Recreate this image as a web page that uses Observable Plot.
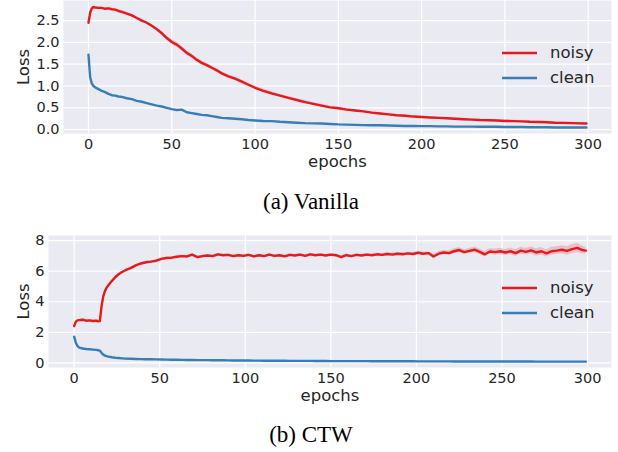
<!DOCTYPE html>
<html><head><meta charset="utf-8">
<script src="https://cdn.jsdelivr.net/npm/d3@7"></script>
<script src="https://cdn.jsdelivr.net/npm/@observablehq/plot@0.6"></script>
<style>
body{margin:0;background:#fff;}
#wrap{position:relative;width:618px;height:452px;overflow:hidden;}
#a{position:absolute;left:0;top:0;}
#b{position:absolute;left:0;top:225px;}
.cap{position:absolute;left:0;width:622px;text-align:center;font-family:"Liberation Serif","Times New Roman",serif;font-size:23px;line-height:23px;color:#000;}
</style></head><body>
<div id="wrap">
  <div id="a"></div>
  <div class="cap" id="capA" style="top:190px"></div>
  <div id="b"></div>
  <div class="cap" id="capB" style="top:423px"></div>
</div>
<script>
// ---------- data ----------
const captions = ["(a) Vanilla", "(b) CTW"];
const seriesNames = ["noisy", "clean"];
const seriesColors = ["#e41a1c", "#377eb8"];
const xTicks = [0, 50, 100, 150, 200, 250, 300];
const vanYTicks = [0, 0.5, 1, 1.5, 2, 2.5];
const ctwYTicks = [0, 2, 4, 6, 8];
const axisLabels = {x: "epochs", y: "Loss"};

const vanEpochs = [
  0,1,2,3,4,6,8,10,12,14,
  16,18,20,23,26,29,32,35,38,41,
  44,47,50,53,56,59,62,65,68,71,
  74,77,80,84,88,92,96,100,105,110,
  115,120,125,130,135,140,145,150,155,160,
  165,170,175,180,185,190,195,200,205,210,
  215,220,225,230,235,240,245,250,255,260,
  265,270,275,280,285,290,295,299];
const vanNoisy = [
  2.45,2.68,2.78,2.81,2.80,2.79,2.79,2.77,2.78,2.76,
  2.75,2.72,2.70,2.66,2.62,2.56,2.50,2.45,2.38,2.30,
  2.21,2.10,2.01,1.95,1.86,1.76,1.69,1.60,1.53,1.48,
  1.42,1.36,1.29,1.22,1.17,1.10,1.03,0.96,0.89,0.83,
  0.78,0.73,0.68,0.63,0.59,0.55,0.51,0.49,0.46,0.44,
  0.42,0.39,0.37,0.35,0.33,0.32,0.30,0.29,0.28,0.27,
  0.26,0.25,0.24,0.23,0.22,0.215,0.21,0.20,0.195,0.19,
  0.18,0.175,0.17,0.16,0.155,0.15,0.145,0.14];
const vanClean = [
  1.72,1.20,1.06,1.00,0.97,0.93,0.89,0.86,0.82,0.79,
  0.78,0.76,0.75,0.72,0.70,0.66,0.64,0.61,0.58,0.55,
  0.53,0.50,0.47,0.45,0.46,0.40,0.38,0.36,0.34,0.33,
  0.31,0.29,0.27,0.26,0.25,0.24,0.22,0.21,0.20,0.195,
  0.18,0.17,0.16,0.15,0.145,0.14,0.13,0.12,0.115,0.11,
  0.105,0.10,0.10,0.095,0.09,0.085,0.085,0.08,0.08,0.075,
  0.075,0.07,0.07,0.07,0.065,0.065,0.065,0.06,0.06,0.06,
  0.055,0.055,0.055,0.05,0.05,0.05,0.05,0.05];
const vanNoisyBand = [
  0.02,0.02,0.02,0.02,0.02,0.02,0.02,0.02,0.02,0.02,
  0.03,0.03,0.03,0.03,0.03,0.03,0.03,0.03,0.03,0.03,
  0.05,0.05,0.05,0.06,0.06,0.05,0.05,0.05,0.05,0.05,
  0.04,0.04,0.04,0.04,0.04,0.04,0.04,0.04,0.04,0.04,
  0.03,0.03,0.03,0.03,0.03,0.03,0.03,0.03,0.03,0.03,
  0.02,0.02,0.02,0.02,0.02,0.02,0.02,0.02,0.02,0.02,
  0.02,0.02,0.02,0.02,0.02,0.02,0.02,0.02,0.02,0.02,
  0.02,0.02,0.02,0.02,0.02,0.02,0.02,0.02];

const ctwEpochs = [
  0,1,2,3,5,7,9,11,13,14,
  15,16,17,18,19,20,22,24,26,28,
  30,33,36,39,42,45,48,51,54,57,
  60,63,66,69,72,75,78,81,84,87,
  90,93,96,99,102,105,108,111,114,117,
  120,123,126,129,132,135,138,141,144,147,
  150,153,156,159,162,165,168,171,174,177,
  180,183,186,189,192,195,198,201,204,207,
  210,213,216,219,222,225,228,231,234,237,
  240,243,246,249,252,255,258,261,264,267,
  270,273,276,279,282,285,288,291,294,297,
  299];
const ctwNoisy = [
  2.40,2.70,2.78,2.80,2.82,2.76,2.78,2.74,2.76,2.72,
  2.74,3.70,4.35,4.70,4.92,5.08,5.35,5.60,5.80,5.94,
  6.06,6.20,6.38,6.50,6.58,6.62,6.68,6.80,6.86,6.88,
  6.94,6.98,6.96,7.08,6.92,6.98,7.02,6.98,7.10,7.04,
  7.06,6.98,7.04,7.00,7.06,6.96,7.04,6.98,7.08,7.00,
  7.04,6.96,7.06,7.02,7.08,7.00,7.10,7.04,7.08,7.02,
  7.08,7.04,6.92,7.04,6.98,7.06,7.02,7.08,7.04,7.10,
  7.06,7.12,7.08,7.14,7.10,7.16,7.12,7.20,7.14,7.18,
  6.96,7.14,7.22,7.18,7.30,7.38,7.24,7.32,7.40,7.26,
  7.10,7.28,7.24,7.30,7.22,7.30,7.18,7.34,7.26,7.36,
  7.22,7.30,7.16,7.30,7.34,7.40,7.32,7.44,7.52,7.38,
  7.34];
const ctwClean = [
  1.72,1.30,1.10,1.00,0.94,0.91,0.89,0.87,0.85,0.83,
  0.80,0.66,0.54,0.48,0.44,0.41,0.37,0.34,0.32,0.30,
  0.28,0.27,0.26,0.25,0.24,0.235,0.23,0.22,0.215,0.21,
  0.205,0.20,0.195,0.19,0.185,0.18,0.18,0.175,0.17,0.17,
  0.165,0.16,0.16,0.155,0.155,0.15,0.15,0.145,0.145,0.14,
  0.14,0.14,0.135,0.135,0.13,0.13,0.13,0.125,0.125,0.125,
  0.12,0.12,0.12,0.12,0.115,0.115,0.115,0.115,0.11,0.11,
  0.11,0.11,0.11,0.105,0.105,0.105,0.105,0.10,0.10,0.10,
  0.10,0.10,0.10,0.10,0.095,0.095,0.095,0.095,0.095,0.095,
  0.09,0.09,0.09,0.09,0.09,0.09,0.09,0.09,0.09,0.09,
  0.085,0.085,0.085,0.085,0.085,0.085,0.085,0.085,0.085,0.085,
  0.085];
const ctwNoisyBand = [
  0.05,0.05,0.05,0.05,0.05,0.05,0.05,0.05,0.05,0.05,
  0.05,0.08,0.08,0.06,0.06,0.06,0.06,0.06,0.06,0.06,
  0.06,0.06,0.06,0.06,0.06,0.06,0.06,0.06,0.06,0.06,
  0.07,0.07,0.07,0.07,0.07,0.07,0.07,0.07,0.07,0.07,
  0.07,0.07,0.07,0.07,0.07,0.07,0.07,0.07,0.07,0.07,
  0.07,0.07,0.07,0.07,0.07,0.07,0.07,0.07,0.07,0.07,
  0.08,0.08,0.08,0.08,0.08,0.08,0.08,0.08,0.08,0.08,
  0.09,0.09,0.09,0.09,0.09,0.09,0.09,0.09,0.09,0.09,
  0.12,0.12,0.14,0.14,0.16,0.16,0.16,0.16,0.18,0.18,
  0.18,0.18,0.20,0.20,0.20,0.22,0.22,0.22,0.22,0.24,
  0.24,0.24,0.24,0.26,0.26,0.26,0.28,0.30,0.30,0.26,
  0.24];

// ---------- drawing ----------
const INK = "#262626";
const BG = "#eaeaf2";

function rows(ep, noisy, clean, band) {
  return ep.map((e, i) => ({e, noisy: noisy[i], clean: clean[i], lo: noisy[i] - band[i], hi: noisy[i] + band[i]}));
}

function legendMark(index, scales, values, dims) {
  const R = dims.width - dims.marginRight, T = dims.marginTop;
  const g = d3.create("svg:g");
  seriesNames.forEach((name, i) => {
    const y = T + 53 + i * 25;
    g.append("line").attr("x1", R - 109).attr("x2", R - 74).attr("y1", y).attr("y2", y)
      .attr("stroke", seriesColors[i]).attr("stroke-width", 2.4);
    g.append("text").attr("x", R - 61).attr("y", y).attr("dy", "0.3em")
      .attr("text-anchor", "start")
      .attr("font-size", 16.5).attr("fill", INK).text(name);
  });
  return g.node();
}

function panel({data, yDomain, yTicks, yFmt, marginLeft, marginTop, height, lossDx}) {
  return Plot.plot({
    width: 618, height, marginTop, marginLeft, marginRight: 7, marginBottom: 42,
    style: {fontFamily: "DejaVu Sans", fontSize: "14.5px", color: INK, background: "transparent", overflow: "visible"},
    x: {domain: [-15, 314]},
    y: {domain: yDomain},
    marks: [
      Plot.frame({fill: BG, stroke: null}),
      Plot.gridX(xTicks, {stroke: "#fff", strokeOpacity: 1, strokeWidth: 1.2}),
      Plot.gridY(yTicks, {stroke: "#fff", strokeOpacity: 1, strokeWidth: 1.2}),
      Plot.axisX(xTicks, {tickSize: 0, tickPadding: 5, label: null, tickFormat: "d"}),
      Plot.axisY(yTicks, {tickSize: 0, tickPadding: 4, label: null, tickFormat: yFmt}),
      Plot.areaY(data, {x: "e", y1: "lo", y2: "hi", fill: seriesColors[0], fillOpacity: 0.2}),
      Plot.lineY(data, {x: "e", y: "clean", stroke: seriesColors[1], strokeWidth: 2.4}),
      Plot.lineY(data, {x: "e", y: "noisy", stroke: seriesColors[0], strokeWidth: 2.4}),
      Plot.text([axisLabels.x], {text: d => d, frameAnchor: "bottom", lineAnchor: "middle", textAnchor: "middle", dy: 28, fontSize: 16.5, fill: INK}),
      Plot.text([axisLabels.y], {text: d => d, frameAnchor: "left", lineAnchor: "middle", textAnchor: "middle", dx: lossDx, rotate: -90, fontSize: 16.5, fill: INK}),
      legendMark
    ]
  });
}

document.getElementById("a").append(panel({
  data: rows(vanEpochs, vanNoisy, vanClean, vanNoisyBand),
  yDomain: [-0.088, 2.96], yTicks: vanYTicks, yFmt: d3.format(".1f"),
  marginLeft: 63, marginTop: 0, height: 175, lossDx: -40
}));
document.getElementById("b").append(panel({
  data: rows(ctwEpochs, ctwNoisy, ctwClean, ctwNoisyBand),
  yDomain: [-0.3, 8.33], yTicks: ctwYTicks, yFmt: d3.format("d"),
  marginLeft: 48, marginTop: 10, height: 184, lossDx: -25
}));
document.getElementById("capA").textContent = captions[0];
document.getElementById("capB").textContent = captions[1];
</script>
</body></html>
